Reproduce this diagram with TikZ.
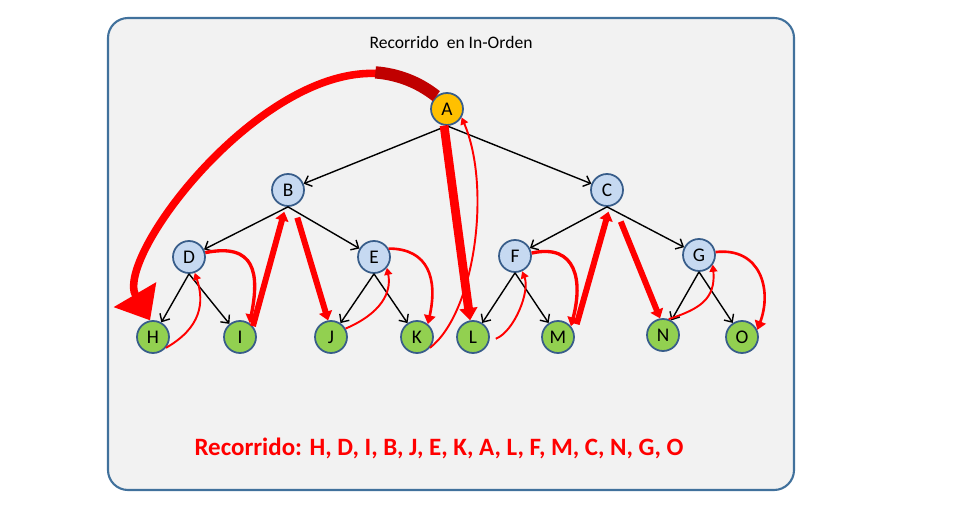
\documentclass[tikz,border=0pt]{standalone}
\usepackage{fontspec}
\setmainfont{Carlito}
\usetikzlibrary{arrows.meta}

\definecolor{boxfill}{HTML}{F2F2F2}
\definecolor{boxline}{HTML}{41719C}
\definecolor{nodeline}{HTML}{385D8A}
\definecolor{rootfill}{HTML}{FFC000}
\definecolor{innerfill}{HTML}{C6D9F1}
\definecolor{leaffill}{HTML}{92D050}
\definecolor{darkred}{HTML}{C00000}

\begin{document}
\begin{tikzpicture}[x=0.02cm,y=-0.02cm,
  vertex/.style={circle,draw=nodeline,line width=1pt,minimum size=0.64cm,inner sep=0pt,font=\fontsize{11}{13}\selectfont},
  root/.style={vertex,fill=rootfill},
  inner/.style={vertex,fill=innerfill},
  leaf/.style={vertex,fill=leaffill},
  tree/.style={-{Straight Barb[length=3.5pt,width=6.5pt]},line width=0.8pt},
  thin/.style={red,line width=1.1pt,-{Triangle[length=4pt,width=4.5pt]}},
  curve/.style={red,line width=1.9pt,-{Triangle[length=5pt,width=6.5pt]}},
  thick/.style={red,line width=3.4pt,-{Triangle[length=5pt,width=7.5pt]}}]

\useasboundingbox (0,0) rectangle (955,509);
\draw [boxline,fill=boxfill,line width=1.2pt,rounded corners=0.4cm] (108,18) rectangle (794,490);

\node (title) at (451,42) [font=\fontsize{10}{12}\selectfont] {Recorrido\ \ en In-Orden};

\node (A) at (447,109) [root] {A};
\node (B) at (288,190) [inner] {B};
\node (C) at (607,190) [inner] {C};
\node (D) at (189,257) [inner] {D};
\node (E) at (374,257) [inner] {E};
\node (F) at (515,256) [inner] {F};
\node (G) at (699,255) [inner] {G};
\node (H) at (153,337) [leaf] {H};
\node (I) at (240,337) [leaf] {I};
\node (J) at (331,337) [leaf] {J};
\node (K) at (417,337) [leaf] {K};
\node (L) at (473,337) [leaf] {L};
\node (M) at (558,337) [leaf] {M};
\node (N) at (663,335) [leaf] {N};
\node (O) at (742,337) [leaf] {O};

\path [tree]
    (A.south) edge (B)
    (A.south) edge (C)
    (B.south) edge (D)
    (B.south) edge (E)
    (C.south) edge (F)
    (C.south) edge (G)
    (D.south) edge (H)
    (D.south) edge (I)
    (E.south) edge (J)
    (E.south) edge (K)
    (F.south) edge (L)
    (F.south) edge (M)
    (G.south) edge (N)
    (G.south) edge (O)
;

% recorrido
\draw [red,line width=4.3pt,-{Triangle[length=17pt,width=27pt]}]
    (A.130) .. controls (312,-3) and (110,252) .. (H.100);
\draw [darkred,line width=7pt] (A.130) .. controls (418,81.7) and (397.2,74.1) .. (375.4,72.4);
\draw [thin] (H.-40) .. controls +(35,-20) and +(10,30) .. (D.-70);
\draw [curve] (D.15) .. controls +(50,-10) and +(10,-50) .. (I.55);
\draw [thick,shorten >=3pt] (I.40) -- (B.-98);
\draw [thick,shorten <=7pt] (B.-70) -- (J.100);
\draw [thin] (J.30) .. controls +(35,-15) and +(5,25) .. (E.-40);
\draw [curve,line width=1.5pt] (E.30) .. controls +(40,0) and +(10,-45) .. (K.50);
\draw [thin] (K.-40) .. controls +(45,-35) and +(30,70) .. (A.-30);
\draw [red,line width=5pt,-{Triangle[length=7pt,width=10pt]}] (A.-100) -- (L.100);
\draw [thin,shorten <=4pt] (L.-15) .. controls +(25,-10) and +(8,20) .. (F.-65);
\draw [curve] (F.10) .. controls +(45,-10) and +(12,-45) .. (M.40);
\draw [thick,shorten <=5pt,shorten >=3pt] (M.15) -- (C.-80);
\draw [thick,shorten <=10pt] (C.-65) -- (N.100);
\draw [thin] (N.70) .. controls +(30,-10) and +(3,35) .. (G.-35);
\draw [curve,line width=1.5pt] (G.10) .. controls +(45,-5) and +(15,-40) .. (O.25);

\node (result) at (439,448) [text=red,font=\bfseries\fontsize{14.2}{17}\selectfont]
    {Recorrido: H, D, I, B, J, E, K, A, L, F, M, C, N, G, O};

\end{tikzpicture}
\end{document}
